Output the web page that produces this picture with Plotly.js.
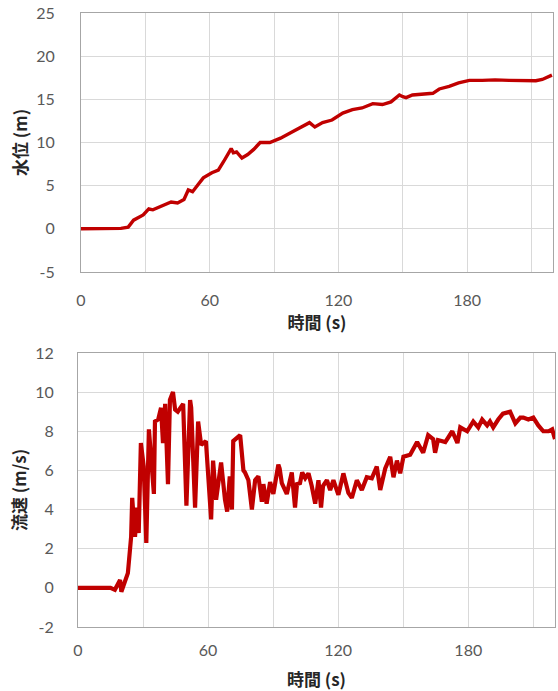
<!DOCTYPE html>
<html>
<head>
<meta charset="utf-8">
<script src="https://cdn.plot.ly/plotly-3.0.1.min.js"></script>
<style>html,body{margin:0;padding:0;background:#fff;}#chart{width:558px;height:691px;}</style>
</head>
<body>
<div id="chart"></div>
<script>
// Upper chart: water level (m) vs time (s)
const levelTime = [0, 10, 18.6, 22, 24.5, 29, 31.6, 33.5, 37, 42, 45, 48, 50, 52, 54.5, 57, 61, 64, 66.5, 69, 70, 71, 72.5, 75, 77.7, 80.5, 83.5, 88, 93, 99, 102, 106.5, 109, 112.6, 117, 122, 126.5, 131, 136, 140.5, 144.5, 148.4, 150, 151.5, 154.5, 161, 164, 167, 171.6, 176, 181, 187, 193, 199.5, 206, 212, 215, 219.5];
const levelValue = [0, 0, 0.05, 0.2, 1.0, 1.6, 2.3, 2.2, 2.6, 3.1, 3.0, 3.4, 4.5, 4.3, 5.1, 5.9, 6.5, 6.8, 7.8, 8.9, 9.3, 8.8, 8.9, 8.2, 8.6, 9.2, 10.0, 10.0, 10.5, 11.3, 11.7, 12.3, 11.8, 12.3, 12.6, 13.4, 13.8, 14.0, 14.5, 14.4, 14.7, 15.5, 15.3, 15.2, 15.5, 15.7, 15.7, 16.2, 16.5, 16.9, 17.2, 17.2, 17.25, 17.2, 17.2, 17.15, 17.3, 17.8];

// Lower chart: flow velocity (m/s) vs time (s)
const speedTime = [0, 15, 17, 19.4, 20, 21.7, 23, 24.5, 25, 26.3, 27.2, 28, 29, 30.3, 31.5, 32.7, 33.7, 35, 35.5, 37, 38.3, 39.2, 40.2, 41.5, 42.4, 43.8, 44.8, 46, 48.5, 50, 51.7, 52.2, 54, 55.4, 56.8, 59, 61.4, 62.3, 63.7, 66, 67.8, 68.8, 70, 71, 71.6, 73.4, 74.8,
  76.3, 77, 78.6, 80.2, 81.7, 83.2, 84.8, 85.5, 87, 88.6, 90.1, 91.8, 92.4, 93, 94, 96.3, 98.6, 100.1, 101, 102.4, 103.4, 104.8, 106.3, 107.8, 109.4, 110.9, 112.1, 113, 114.8, 116.3, 117.8, 120.1, 122.4, 124.7, 126.3, 128.6, 130.9, 133.2, 135.5, 137.8, 139.4, 141.7, 144, 145.5, 147.1, 148.6, 150.1,
  153.2, 156.4, 159.2, 161.5, 163.8, 164.7, 166, 169.4, 172.6, 175, 176.3, 179.5, 182.3, 184.6, 186.4, 188.7, 190, 191.5, 193.8, 196, 199.3, 201.7, 204, 205.4, 207.7, 210, 212.3, 214.6, 217, 218.7, 220];
const speedValue = [0, 0, -0.1, 0.4, -0.2, 0.4, 0.75, 2.6, 4.6, 2.6, 4.1, 2.8, 7.4, 6.2, 2.3, 8.1, 6.4, 4.8, 8.5, 8.6, 9.2, 7.4, 9.4, 5.3, 9.6, 10.0, 9.1, 9.0, 9.4, 4.2, 9.6, 9.2, 4.1, 8.5, 7.3, 7.5, 3.5, 6.5, 4.5, 6.4, 4.5, 3.9, 5.7, 4.0, 7.5, 7.7, 7.8,
  6.0, 5.9, 5.5, 4.0, 5.5, 5.7, 4.4, 5.3, 4.3, 5.4, 4.8, 6.2, 6.3, 6.1, 5.35, 4.8, 5.9, 4.1, 5.3, 5.35, 5.9, 5.6, 5.85, 5.2, 4.3, 5.5, 4.1, 5.2, 5.5, 5.0, 5.5, 4.75, 5.85, 4.85, 4.6, 5.5, 5.0, 5.65, 5.6, 6.2, 5.0, 6.1, 6.7, 5.65, 6.5, 5.85, 6.7,
  6.8, 7.45, 6.9, 7.8, 7.6, 6.9, 7.55, 7.45, 8.0, 7.4, 8.2, 8.0, 8.5, 8.2, 8.6, 8.3, 8.5, 8.2, 8.6, 8.9, 9.0, 8.4, 8.7, 8.7, 8.6, 8.7, 8.3, 8.0, 8.0, 8.1, 7.6];

// Tick labels
const xTickVals = [0, 30, 60, 90, 120, 150, 180, 210];
const xTickText = ['0', '', '60', '', '120', '', '180', ''];
const levelTicks = [-5, 0, 5, 10, 15, 20, 25];
const levelTickText = ['-5', '0', '5', '10', '15', '20', '25'];
const speedTicks = [-2, 0, 2, 4, 6, 8, 10, 12];
const speedTickText = ['-2', '0', '2', '4', '6', '8', '10', '12'];
const xTitle = '時間 (s)';
const levelTitle = '水位 (m)';
const speedTitle = '流速 (m/s)';

const red = '#C00000';
const tickFont = {family: 'Lato, "Open Sans", sans-serif', size: 16, color: '#595959'};
const titleFont = {family: '"Noto Sans CJK JP", sans-serif', size: 17, color: '#262626', weight: 'bold'};

const traces = [
  {x: levelTime, y: levelValue, xaxis: 'x', yaxis: 'y', type: 'scatter', mode: 'lines',
   line: {color: red, width: 3.4}, hoverinfo: 'x+y'},
  {x: speedTime, y: speedValue, xaxis: 'x2', yaxis: 'y2', type: 'scatter', mode: 'lines',
   line: {color: red, width: 4.2}, hoverinfo: 'x+y'}
];

const xCommon = {
  range: [0, 220], tickmode: 'array', tickvals: xTickVals, ticktext: xTickText,
  showgrid: true, gridcolor: '#d9d9d9', gridwidth: 1, zeroline: false,
  showline: true, linecolor: '#a6a6a6', linewidth: 1, mirror: true,
  ticks: 'outside', ticklen: 14, tickcolor: 'rgba(0,0,0,0)',
  tickfont: tickFont, fixedrange: true
};
const yCommon = {
  showgrid: true, gridcolor: '#d9d9d9', gridwidth: 1, zeroline: false,
  showline: true, linecolor: '#a6a6a6', linewidth: 1, mirror: true,
  ticks: 'outside', ticklen: 22, tickcolor: 'rgba(0,0,0,0)',
  tickfont: tickFont, tickmode: 'array', fixedrange: true
};

const layout = {
  width: 558, height: 691,
  margin: {l: 78, r: 3, t: 13, b: 64},
  paper_bgcolor: '#ffffff', plot_bgcolor: '#ffffff',
  showlegend: false,
  xaxis: Object.assign({}, xCommon, {domain: [0.0063, 0.9958], anchor: 'y',
    title: {text: xTitle, font: titleFont, standoff: 2}}),
  yaxis: Object.assign({}, yCommon, {domain: [0.5782, 1], anchor: 'x', range: [-5, 25],
    tickvals: levelTicks, ticktext: levelTickText, title: {text: levelTitle, font: titleFont, standoff: 4}}),
  xaxis2: Object.assign({}, xCommon, {domain: [0, 1], anchor: 'y2', ticklen: 9,
    title: {text: xTitle, font: titleFont, standoff: 15}}),
  yaxis2: Object.assign({}, yCommon, {domain: [0, 0.4463], anchor: 'x2', range: [-2, 12],
    tickvals: speedTicks, ticktext: speedTickText, ticklen: 20, title: {text: speedTitle, font: titleFont, standoff: 4}})
};

Plotly.newPlot('chart', traces, layout, {displayModeBar: false, staticPlot: true});
</script>
</body>
</html>
